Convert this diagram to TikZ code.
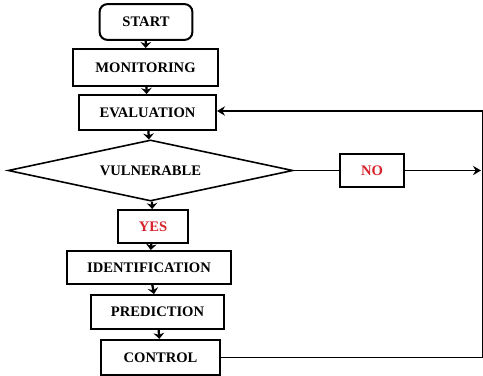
\documentclass[tikz,border=0pt]{standalone}
\usepackage{fontspec}
\setmainfont{Liberation Serif}
\usetikzlibrary{positioning, arrows.meta, shapes.geometric}
\definecolor{answer}{RGB}{215, 35, 45}

\begin{document}
\begin{tikzpicture}[
    x=0.0265cm, y=-0.0265cm,
    >=Stealth,
    font=\fontsize{11}{13}\selectfont\bfseries,
    stepbox/.style={
        rectangle, draw=black, fill=white,
        line width=1.5pt, align=center,
        minimum width=#1, minimum height=0.9cm, inner sep=2pt,
    },
    startbox/.style={
        stepbox=#1, rounded corners=6pt,
    },
    choice/.style={
        diamond, draw=black, line width=1.2pt, aspect=3,
        minimum width=7.55cm, minimum height=1.62cm, inner sep=0pt,
    },
    answerbox/.style={
        stepbox=#1, text=answer,
    },
    arrow/.style={-{Stealth[length=4.5pt, width=8pt]}, line width=1.7pt},
    line/.style={line width=1.4pt},
    longarrow/.style={line, -{Stealth[length=6pt, width=7pt]}},
]

\useasboundingbox (0,0) rectangle (483,376);

% =================================================
% Main column
% =================================================
\node[startbox=2.46cm, minimum height=0.95cm] (start) at (146,22) {START};
\node[stepbox=3.84cm, minimum height=0.98cm] (monitor) at (145.5,67.5) {MONITORING};
\node[stepbox=3.63cm, minimum height=0.93cm] (eval) at (147.5,112.5) {EVALUATION};
\node[choice] (vuln) at (150.5,170.5) {VULNERABLE};
\node[answerbox=1.86cm, minimum height=0.875cm] (yes) at (153,226.5) {YES};
\node[stepbox=4.35cm, minimum height=0.875cm] (ident) at (149,267.5) {IDENTIFICATION};
\node[stepbox=3.52cm] (predict) at (157.5,312) {PREDICTION};
\node[stepbox=3.15cm, minimum height=0.93cm] (control) at (160.5,357.5) {CONTROL};

% =================================================
% NO branch and feedback loop
% =================================================
\node[answerbox=1.70cm, minimum height=0.875cm] (no) at (372,170.5) {NO};
\coordinate (noend) at (481,170.5);
\coordinate (loopbot) at (482.5,357.5);
\coordinate (looptop) at (482.5,111);

% =================================================
% Flow arrows
% =================================================
\draw[arrow] (start)   -- (monitor);
\draw[arrow] (monitor) -- (eval);
\draw[arrow] (eval)    -- (vuln);
\draw[arrow] (vuln)    -- (yes);
\draw[arrow] (yes)     -- (ident);
\draw[arrow] (ident)   -- (predict);
\draw[arrow] (predict) -- (control);

\draw[line]      (vuln.east) -- (no);
\draw[longarrow] (no) -- (noend);
\draw[longarrow] (control.east) -- (loopbot) -- (looptop) -- (eval.east |- looptop);

\end{tikzpicture}
\end{document}
